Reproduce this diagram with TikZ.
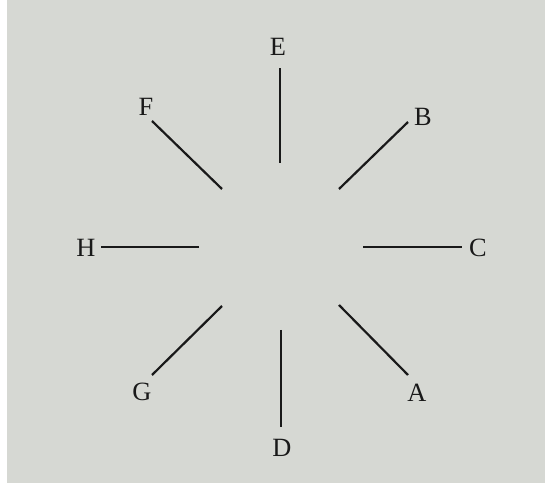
\documentclass[tikz,border=0pt]{standalone}
\usepackage{fontspec}
\setmainfont{Liberation Serif}
\usetikzlibrary{positioning}
\definecolor{paper}{RGB}{214,216,211}
\definecolor{ink}{RGB}{25,25,25}

\begin{document}
\begin{tikzpicture}[
  x=0.02cm, y=-0.02cm,
  lbl/.style={font=\fontsize{15}{17}\selectfont, text=ink, inner sep=0pt},
  ray/.style={draw=ink, line width=1.25pt}
]
\useasboundingbox (0,0) rectangle (545,486);
\fill[white] (0,0) rectangle (545,486);
\fill[paper] (7,0) rectangle (545,483);

%% ===== Beschriftungen =====
\node[lbl] (lblE) at (278,47) {E};
\node[lbl] (lblB) at (423,117) {B};
\node[lbl] (lblC) at (478,248) {C};
\node[lbl] (lblA) at (417,393) {A};
\node[lbl] (lblD) at (282,448) {D};
\node[lbl] (lblG) at (142,392) {G};
\node[lbl] (lblH) at (86,248) {H};
\node[lbl] (lblF) at (146,107) {F};

%% ===== Endpunkte der Striche =====
\coordinate (outE) at (280,68);   \coordinate (inE) at (280,163);
\coordinate (outB) at (408,122);  \coordinate (inB) at (339,189);
\coordinate (outC) at (462,247);  \coordinate (inC) at (363,247);
\coordinate (outA) at (408,375);  \coordinate (inA) at (339,305);
\coordinate (outD) at (281,427);  \coordinate (inD) at (281,330);
\coordinate (outG) at (152,375);  \coordinate (inG) at (222,306);
\coordinate (outH) at (101,247);  \coordinate (inH) at (199,247);
\coordinate (outF) at (152,121);  \coordinate (inF) at (222,189);

%% ===== Striche =====
\foreach \r in {E,B,C,A,D,G,H,F}
  \draw[ray] (in\r) -- (out\r);
\end{tikzpicture}
\end{document}
